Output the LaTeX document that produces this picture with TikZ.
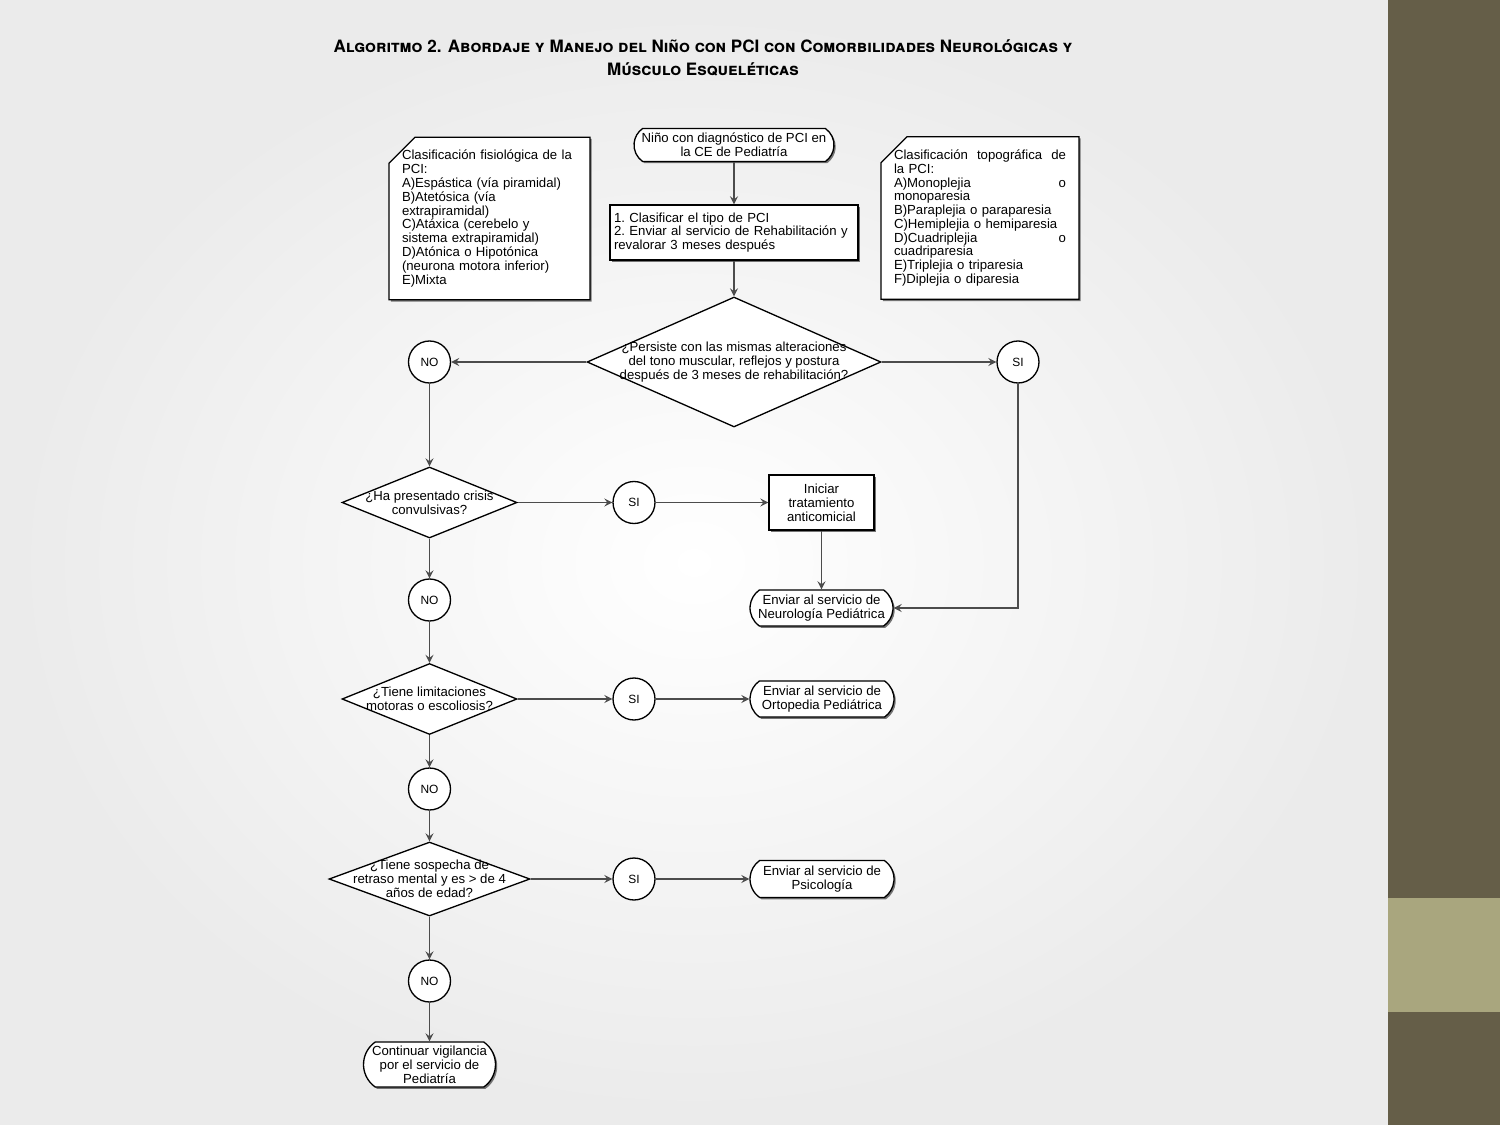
\documentclass[tikz,border=0pt]{standalone}
\usepackage{fontspec}
\setmainfont{Liberation Sans}
\newfontfamily\titlefont{TeX Gyre Heros}
\usetikzlibrary{shapes.geometric, shapes.misc, arrows, shadows}
\definecolor{slidebar}{HTML}{655E48}
\definecolor{slideband}{HTML}{A9A67E}
\tikzstyle{boxshadow} = [
    drop shadow={shadow xshift=0.035cm, shadow yshift=-0.035cm, fill=black!60, opacity=0.9}
]
\tikzstyle{decision} = [
    diamond, 
    inner sep=0pt, 
    draw=black, 
    line width=0.75pt, 
    fill=white
]
\tikzstyle{startstop} = [
    rounded rectangle, 
    rounded rectangle arc length=110, 
    inner sep=0pt, 
    draw=black, 
    line width=0.75pt, 
    fill=white, 
    boxshadow
]
\tikzstyle{process} = [
    rectangle, 
    inner sep=0pt, 
    draw=black, 
    line width=0.75pt, 
    fill=white, 
    boxshadow
]
\tikzstyle{note} = [
    chamfered rectangle, 
    chamfered rectangle corners=north west, 
    chamfered rectangle xsep=0.26cm, 
    chamfered rectangle ysep=0.26cm, 
    inner sep=0pt, 
    draw=black, 
    line width=0.75pt, 
    fill=white, 
    boxshadow
]
\tikzstyle{answer} = [
    circle, 
    minimum size=0.84cm, 
    inner sep=0pt, 
    draw=black, 
    line width=0.75pt, 
    fill=white, 
    font=\fontsize{6.8}{8}\selectfont
]
\tikzstyle{arrow} = [
    line width=1pt, 
    draw=black!70, 
    ->, 
    >=stealth
]
\tikzset{every label/.style={align=center, inner sep=0pt, font=\fontsize{7.5}{7.9}\selectfont}}

\begin{document}
\begin{tikzpicture}[x=0.02cm, y=-0.02cm]
        \useasboundingbox (0,0) rectangle (1500,1125);
        % slide background
        \shade[inner color=white, outer color=black!8] (0,0) rectangle (1388,1125);
        \fill[slidebar] (1388,0) rectangle (1500,1125);
        \fill[slideband] (1388,898) rectangle (1500,1012);

        \node (title) at (703,58) [align=center, font=\titlefont\bfseries\scshape\fontsize{9.7}{13}\selectfont] {Algoritmo 2. Abordaje y Manejo del Niño con PCI con Comorbilidades Neurológicas y\\ Músculo Esqueléticas};

        % top row
        \node (start) at (734,145) [startstop, minimum width=4cm, minimum height=0.66cm, label={center:Niño con diagnóstico de PCI en\\ la CE de Pediatría}] {};
        \node (proc) at (734,232.5) [process, minimum width=4.96cm, minimum height=1.1cm, text width=4.8cm, align=left, font=\fontsize{7.5}{7.9}\selectfont] {1.\ Clasificar el tipo de PCI\\ 2.\ Enviar al servicio de Rehabilitación y\\ revalorar 3 meses después};
        \node (fisio) at (489.5,218.5) [note, minimum width=3.8cm, minimum height=3.12cm, text width=3.5cm, align=left, font=\fontsize{7.5}{7.85}\selectfont] {Clasificación fisiológica de la\\ PCI:\\ A)Espástica (vía piramidal)\\ B)Atetósica (vía\\ extrapiramidal)\\ C)Atáxica (cerebelo y\\ sistema extrapiramidal)\\ D)Atónica o Hipotónica\\ (neurona motora inferior)\\ E)Mixta};
        \node (topo) at (980,218) [note, minimum width=3.86cm, minimum height=3.14cm, text width=3.44cm, align=left, font=\fontsize{7.5}{7.85}\selectfont] {Clasificación\hfill topográfica\hfill de\\ la PCI:\\ A)Monoplejia\hfill o\\ monoparesia\\ B)Paraplejia o paraparesia\\ C)Hemiplejia o hemiparesia\\ D)Cuadriplejia\hfill o\\ cuadriparesia\\ E)Triplejia o triparesia\\ F)Diplejia o diparesia};

        % first decision
        \node (persiste) at (734,362) [decision, minimum width=5.88cm, minimum height=2.6cm, label={center:¿Persiste con las mismas alteraciones\\ del tono muscular, reflejos y postura\\ después de 3 meses de rehabilitación?}] {};
        \node (no1) at (429.5,362) [answer] {NO};
        \node (si1) at (1018,362) [answer] {SI};

        % crisis convulsivas
        \node (crisis) at (429.5,502.5) [decision, minimum width=3.5cm, minimum height=1.42cm, label={center:¿Ha presentado crisis\\ convulsivas?}] {};
        \node (si2) at (634,502.5) [answer] {SI};
        \node (antic) at (821.5,502.5) [process, minimum width=2.1cm, minimum height=1.1cm, align=center, font=\fontsize{7.5}{7.9}\selectfont] {Iniciar\\ tratamiento\\ anticomicial};
        \node (neuro) at (821.5,608) [startstop, minimum width=2.86cm, minimum height=0.72cm, label={center:Enviar al servicio de\\ Neurología Pediátrica}] {};
        \node (no2) at (429.5,600) [answer] {NO};

        % limitaciones motoras
        \node (motor) at (429.5,699) [decision, minimum width=3.5cm, minimum height=1.42cm, label={center:¿Tiene limitaciones\\ motoras o escoliosis?}] {};
        \node (si3) at (634,699) [answer] {SI};
        \node (orto) at (822,699) [startstop, minimum width=2.88cm, minimum height=0.72cm, label={center:Enviar al servicio de\\ Ortopedia Pediátrica}] {};
        \node (no3) at (429.5,789) [answer] {NO};

        % retraso mental
        \node (retraso) at (429.5,879) [decision, minimum width=4.02cm, minimum height=1.48cm, label={center:¿Tiene sospecha de\\ retraso mental y es > de 4\\ años de edad?}] {};
        \node (si4) at (634,879) [answer] {SI};
        \node (psico) at (822,879) [startstop, minimum width=2.88cm, minimum height=0.74cm, label={center:Enviar al servicio de\\ Psicología}] {};
        \node (no4) at (429.5,981) [answer] {NO};
        \node (vigil) at (429.5,1064.5) [startstop, minimum width=2.64cm, minimum height=0.9cm, label={center:Continuar vigilancia\\ por el servicio de\\ Pediatría}] {};

        \draw[arrow] (start) -- (proc);
        \draw[arrow] (proc) -- (persiste);
        \draw[arrow] (persiste) -- (no1);
        \draw[arrow] (persiste) -- (si1);
        \draw[arrow] (no1) -- (crisis);
        \draw[arrow] (si1) |- (neuro);
        \draw[arrow] (crisis) -- (si2);
        \draw[arrow] (si2) -- (antic);
        \draw[arrow] (antic) -- (neuro);
        \draw[arrow] (crisis) -- (no2);
        \draw[arrow] (no2) -- (motor);
        \draw[arrow] (motor) -- (si3);
        \draw[arrow] (si3) -- (orto);
        \draw[arrow] (motor) -- (no3);
        \draw[arrow] (no3) -- (retraso);
        \draw[arrow] (retraso) -- (si4);
        \draw[arrow] (si4) -- (psico);
        \draw[arrow] (retraso) -- (no4);
        \draw[arrow] (no4) -- (vigil);
    \end{tikzpicture}
\end{document}
